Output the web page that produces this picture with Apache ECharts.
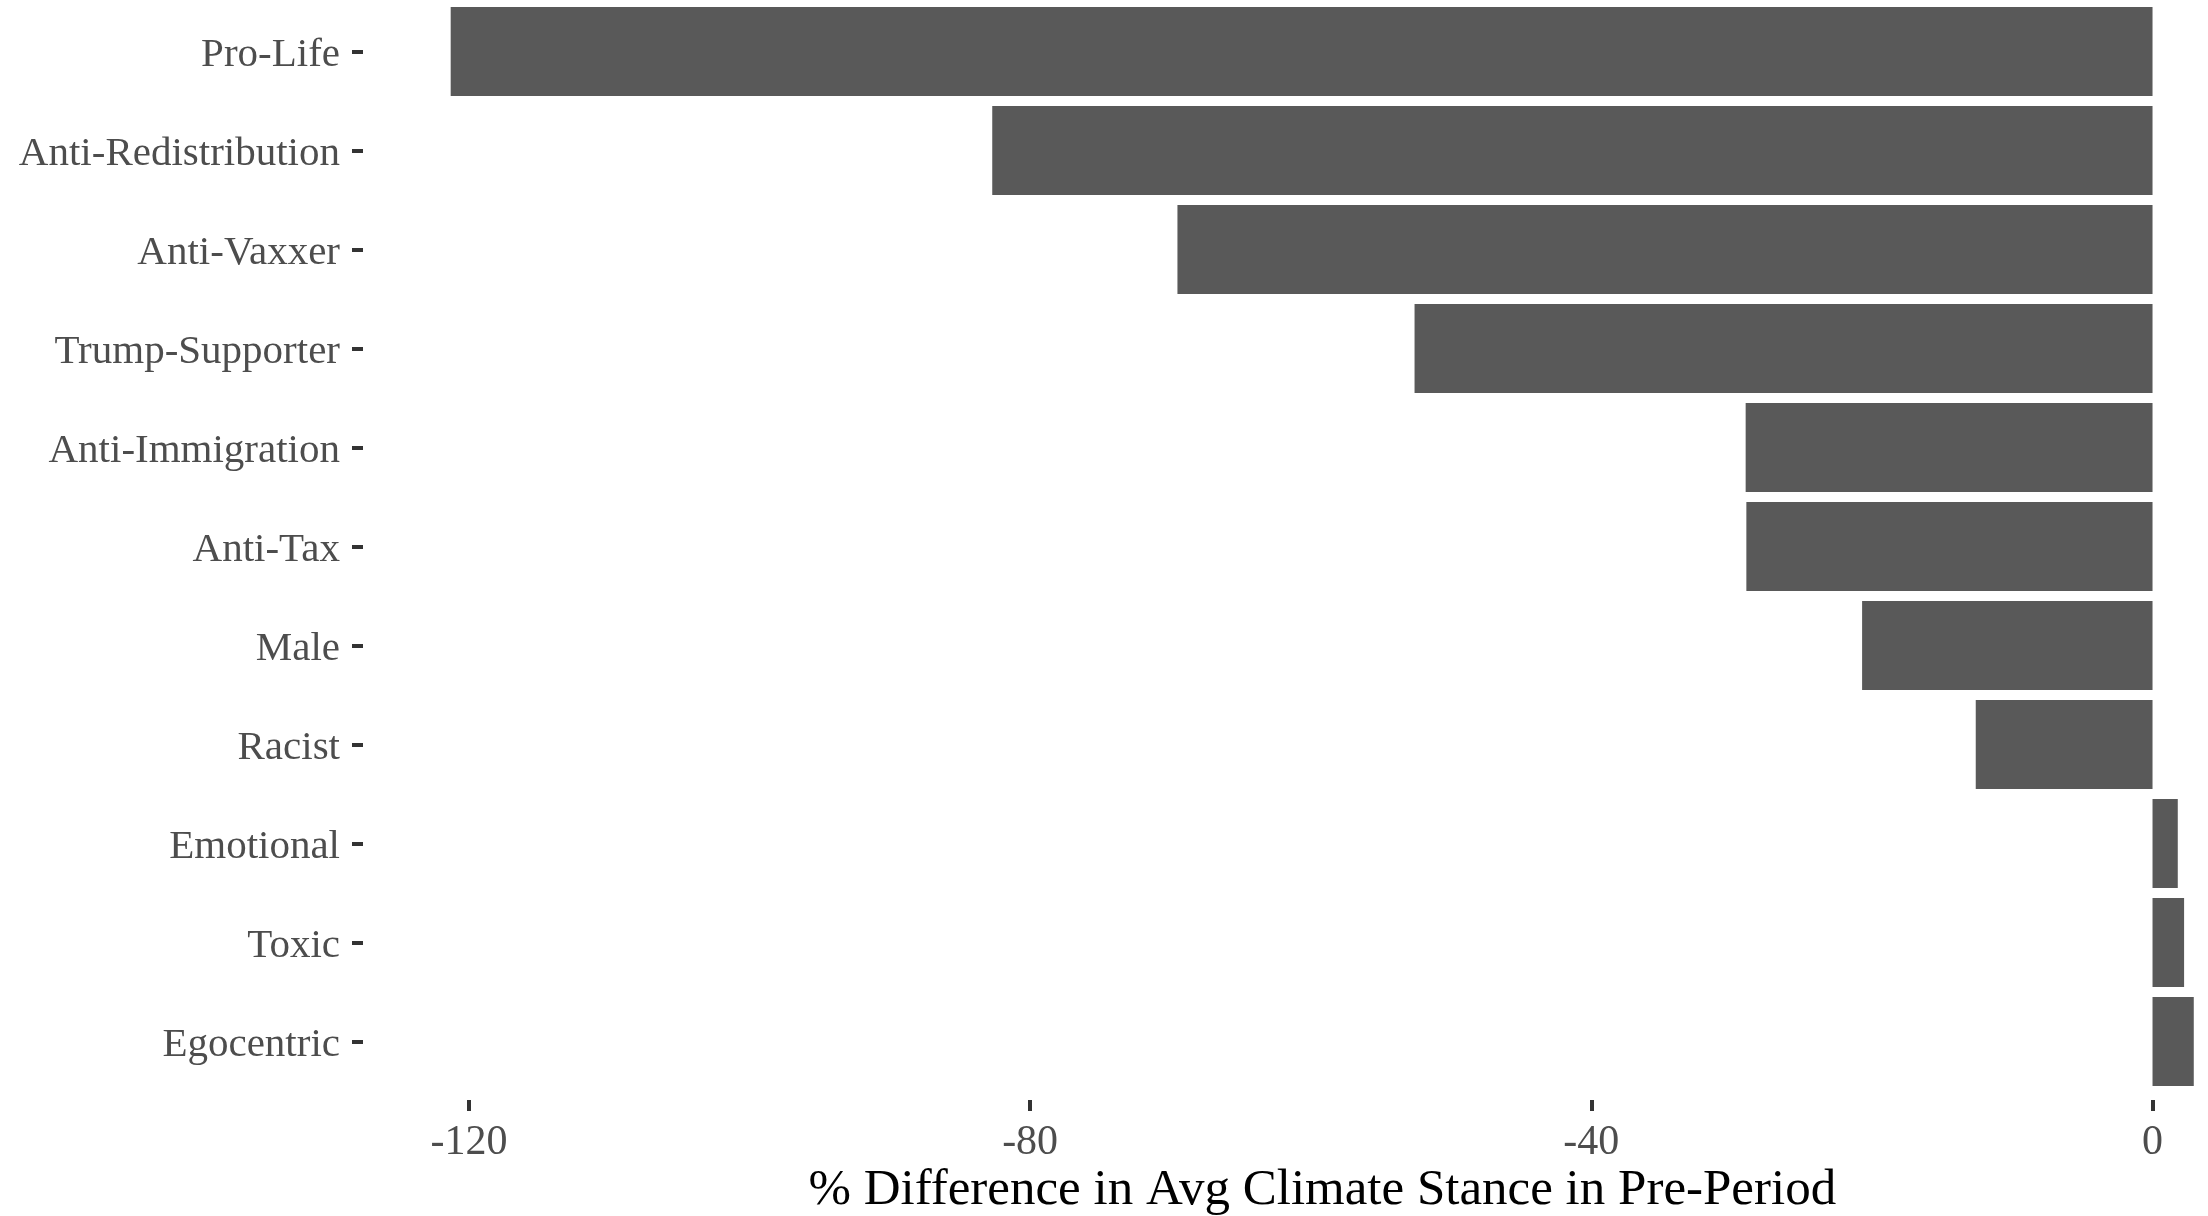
<!DOCTYPE html>
<html>
<head>
<meta charset="utf-8">
<script src="https://cdn.jsdelivr.net/npm/echarts@6/dist/echarts.min.js"></script>
<style>
html,body{margin:0;padding:0;background:#fff;}
#chart{width:2208px;height:1216px;}
</style>
</head>
<body>
<div id="chart"></div>
<script>
const categories = ['Pro-Life','Anti-Redistribution','Anti-Vaxxer','Trump-Supporter','Anti-Immigration','Anti-Tax','Male','Racist','Emotional','Toxic','Egocentric'];
const values = [-121.3, -82.7, -69.5, -52.6, -29.0, -28.95, -20.7, -12.6, 1.8, 2.25, 2.94];
const xTicks = [-120, -80, -40, 0];
const xTitle = '% Difference in Avg Climate Stance in Pre-Period';

const font = "'Liberation Serif', 'Times New Roman', serif";
const chart = echarts.init(document.getElementById('chart'), null, {renderer: 'canvas'});
chart.setOption({
  animation: false,
  backgroundColor: '#ffffff',
  grid: {left: 363, width: 1918.6, top: 2, height: 1089, containLabel: false, outerBoundsMode: 'none'},
  xAxis: {
    type: 'value',
    min: -127.55,
    max: 9.2,
    offset: 9,
    splitLine: {show: false},
    axisLine: {show: false},
    axisTick: {show: true, customValues: xTicks, length: 11, lineStyle: {color: '#333333', width: 4}},
    axisLabel: {show: true, customValues: xTicks, margin: 22, color: '#4d4d4d', fontSize: 42, fontFamily: font},
    name: xTitle,
    nameLocation: 'middle',
    nameGap: 65,
    nameMoveOverlap: false,
    nameTextStyle: {color: '#000000', fontSize: 51, fontFamily: font}
  },
  yAxis: {
    type: 'category',
    data: categories,
    inverse: true,
    axisLine: {show: false, onZero: false},
    splitLine: {show: false},
    axisTick: {show: true, alignWithLabel: true, length: 11, lineStyle: {color: '#333333', width: 4}},
    axisLabel: {
      margin: 23,
      formatter: function (v) { return '{a|' + v + '}'; },
      rich: {a: {color: '#4d4d4d', fontSize: 41, fontFamily: font, padding: [8, 0, 0, 0]}}
    }
  },
  series: [{
    type: 'bar',
    data: values,
    barWidth: '90%',
    itemStyle: {color: '#595959'}
  }]
});
</script>
</body>
</html>
